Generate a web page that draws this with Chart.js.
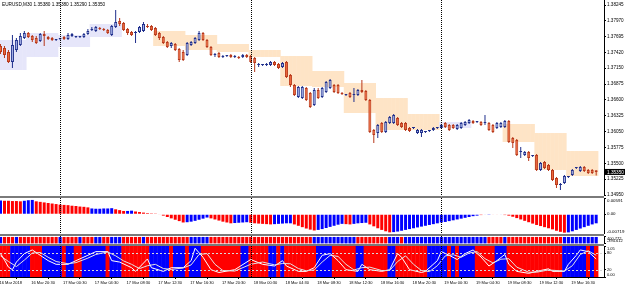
<!DOCTYPE html>
<html>
<head>
<meta charset="utf-8">
<title>EURUSD,M30</title>
<script src="https://cdn.jsdelivr.net/npm/chart.js@4.4.0/dist/chart.umd.min.js"></script>
<style>
  body { margin: 0; background: #fff; }
  #wrap { position: relative; width: 625px; height: 287px; overflow: hidden; background: #fff; }
  #wrap canvas { position: absolute; left: 0; }
  .sep { position: absolute; left: 0; width: 604px; height: 2px; background: #7a7a7a; }
</style>
</head>
<body>
<div id="wrap">
  <canvas id="main" width="625" height="196" style="top:0"></canvas>
  <div class="sep" style="top:196px"></div>
  <canvas id="hist" width="625" height="36" style="top:198px"></canvas>
  <div class="sep" style="top:234px"></div>
  <canvas id="strip" width="625" height="8" style="top:236px"></canvas>
  <div class="sep" style="top:244px"></div>
  <canvas id="osc" width="625" height="41" style="top:246px"></canvas>
</div>
<script>
const symbol = 'EURUSD,M30';

// M30 candles, one per bar, oldest first
const open = [
  1.37534,1.37500,1.37430,1.37257,1.37465,1.37552,1.37673,1.37760,1.37708,1.37673,
  1.37621,1.37742,1.37690,1.37673,1.37638,1.37656,1.37690,1.37656,1.37708,1.37690,
  1.37690,1.37690,1.37742,1.37812,1.37795,1.37847,1.37829,1.37812,1.37725,1.37864,
  1.37968,1.37933,1.37829,1.37777,1.37760,1.37777,1.37795,1.37881,1.37881,1.37847,
  1.37760,1.37690,1.37604,1.37534,1.37569,1.37482,1.37430,1.37378,1.37552,1.37586,
  1.37638,1.37760,1.37638,1.37517,1.37378,1.37413,1.37344,1.37361,1.37378,1.37344,
  1.37344,1.37344,1.37378,1.37361,1.37326,1.37205,1.37205,1.37205,1.37205,1.37257,
  1.37222,1.37170,1.37257,1.37031,1.36858,1.36650,1.36632,1.36806,1.36719,1.36511,
  1.36771,1.36650,1.36737,1.36806,1.36858,1.36858,1.36719,1.36685,1.36719,1.36685,
  1.36685,1.36771,1.36754,1.36598,1.36078,1.36025,1.36199,1.36043,1.36199,1.36199,
  1.36286,1.36199,1.36199,1.36112,1.36112,1.36025,1.36025,1.36043,1.36060,1.36078,
  1.36112,1.36112,1.36199,1.36164,1.36164,1.36095,1.36112,1.36164,1.36199,1.36234,
  1.36216,1.36216,1.36199,1.36199,1.36164,1.36112,1.36130,1.36130,1.36234,1.35939,
  1.35904,1.35696,1.35644,1.35696,1.35627,1.35644,1.35384,1.35523,1.35471,1.35384,
  1.35245,1.35124,1.35159,1.35263,1.35297,1.35418,1.35366,1.35436,1.35384,1.35384,
  1.35380
];
const high = [
  1.37569,1.37534,1.37465,1.37725,1.37673,1.37760,1.37795,1.37777,1.37725,1.37708,
  1.37760,1.37795,1.37708,1.37690,1.37656,1.37673,1.37708,1.37760,1.37760,1.37708,
  1.37708,1.37760,1.37829,1.37864,1.37881,1.37864,1.37847,1.37829,1.37899,1.38159,
  1.38020,1.37951,1.37847,1.37795,1.37795,1.37881,1.37951,1.37916,1.37899,1.37864,
  1.37777,1.37708,1.37621,1.37604,1.37586,1.37500,1.37465,1.37604,1.37621,1.37690,
  1.37795,1.37777,1.37656,1.37534,1.37413,1.37430,1.37378,1.37378,1.37396,1.37378,
  1.37361,1.37396,1.37396,1.37378,1.37344,1.37240,1.37222,1.37240,1.37274,1.37274,
  1.37240,1.37257,1.37274,1.37049,1.36875,1.36841,1.36841,1.36823,1.36737,1.36806,
  1.36806,1.36823,1.36927,1.36962,1.36875,1.36875,1.36737,1.36702,1.36737,1.36806,
  1.36789,1.36945,1.36771,1.36615,1.36095,1.36182,1.36216,1.36234,1.36320,1.36355,
  1.36303,1.36216,1.36216,1.36130,1.36130,1.36095,1.36095,1.36060,1.36078,1.36130,
  1.36130,1.36182,1.36216,1.36182,1.36182,1.36182,1.36216,1.36234,1.36268,1.36251,
  1.36234,1.36234,1.36338,1.36216,1.36182,1.36216,1.36216,1.36251,1.36251,1.35956,
  1.35921,1.35783,1.35713,1.35713,1.35644,1.35661,1.35523,1.35540,1.35488,1.35401,
  1.35263,1.35159,1.35297,1.35280,1.35401,1.35436,1.35453,1.35453,1.35401,1.35401,
  1.35380
];
const low = [
  1.37396,1.37326,1.37240,1.37153,1.37430,1.37534,1.37656,1.37673,1.37604,1.37569,
  1.37604,1.37534,1.37638,1.37621,1.37621,1.37638,1.37638,1.37638,1.37690,1.37673,
  1.37673,1.37673,1.37725,1.37795,1.37777,1.37812,1.37795,1.37742,1.37708,1.37847,
  1.37881,1.37795,1.37725,1.37708,1.37586,1.37760,1.37777,1.37847,1.37795,1.37708,
  1.37638,1.37569,1.37500,1.37500,1.37448,1.37257,1.37274,1.37361,1.37534,1.37569,
  1.37621,1.37621,1.37500,1.37361,1.37344,1.37326,1.37326,1.37344,1.37326,1.37326,
  1.37309,1.37326,1.37326,1.37240,1.37083,1.37170,1.37188,1.37188,1.37188,1.37188,
  1.37135,1.37153,1.36979,1.36823,1.36667,1.36632,1.36615,1.36580,1.36459,1.36494,
  1.36615,1.36632,1.36719,1.36789,1.36719,1.36702,1.36685,1.36667,1.36632,1.36563,
  1.36667,1.36719,1.36580,1.36025,1.35852,1.35939,1.36025,1.36025,1.36182,1.36182,
  1.36147,1.36112,1.36060,1.36043,1.36095,1.36008,1.35956,1.36025,1.36043,1.36060,
  1.36095,1.36095,1.36112,1.36060,1.36095,1.36078,1.36095,1.36147,1.36182,1.36182,
  1.36199,1.36147,1.36164,1.36060,1.36025,1.36095,1.36112,1.36112,1.35852,1.35765,
  1.35627,1.35592,1.35627,1.35540,1.35609,1.35366,1.35366,1.35401,1.35366,1.35193,
  1.35072,1.35037,1.35141,1.35245,1.35280,1.35401,1.35350,1.35350,1.35315,1.35315,
  1.35290
];
const close = [
  1.37430,1.37378,1.37257,1.37552,1.37638,1.37708,1.37760,1.37690,1.37638,1.37586,
  1.37742,1.37708,1.37656,1.37638,1.37638,1.37656,1.37656,1.37725,1.37742,1.37690,
  1.37690,1.37742,1.37795,1.37829,1.37864,1.37829,1.37812,1.37760,1.37881,1.37951,
  1.37916,1.37812,1.37760,1.37725,1.37777,1.37864,1.37916,1.37864,1.37812,1.37725,
  1.37673,1.37586,1.37517,1.37586,1.37465,1.37292,1.37292,1.37586,1.37604,1.37673,
  1.37760,1.37638,1.37517,1.37378,1.37378,1.37344,1.37361,1.37361,1.37344,1.37344,
  1.37326,1.37378,1.37344,1.37257,1.37240,1.37205,1.37205,1.37205,1.37257,1.37205,
  1.37153,1.37240,1.36997,1.36858,1.36685,1.36823,1.36823,1.36598,1.36476,1.36771,
  1.36632,1.36806,1.36910,1.36945,1.36737,1.36719,1.36702,1.36685,1.36650,1.36685,
  1.36771,1.36737,1.36598,1.36043,1.35991,1.36164,1.36043,1.36216,1.36303,1.36338,
  1.36164,1.36130,1.36078,1.36060,1.36112,1.36078,1.36078,1.36043,1.36060,1.36112,
  1.36112,1.36164,1.36130,1.36078,1.36112,1.36164,1.36199,1.36216,1.36251,1.36199,
  1.36216,1.36164,1.36199,1.36078,1.36043,1.36199,1.36199,1.36234,1.35869,1.35852,
  1.35644,1.35696,1.35696,1.35592,1.35627,1.35384,1.35505,1.35418,1.35384,1.35211,
  1.35124,1.35124,1.35280,1.35263,1.35384,1.35418,1.35436,1.35366,1.35332,1.35332,
  1.35350
];

// shaded 4-hour range boxes (bar index from / to)
const boxStart = [0, 7, 15, 23, 39, 47, 55, 63, 71, 79, 87, 95, 103, 111, 127, 135, 143];
const boxEnd   = [6, 14, 22, 30, 46, 54, 62, 70, 78, 86, 94, 102, 110, 118, 134, 142, 150];
const boxHigh  = [1.37638, 1.37760, 1.37725, 1.37916, 1.37795, 1.37725, 1.37569, 1.37465, 1.37361,
                  1.37101, 1.36893, 1.36632, 1.36355, 1.36216, 1.36182, 1.36025, 1.35713];
const boxLow   = [1.37118, 1.37344, 1.37517, 1.37690, 1.37534, 1.37465, 1.37430, 1.37344, 1.36841,
                  1.36823, 1.36372, 1.36078, 1.36078, 1.36112, 1.35869, 1.35384, 1.35280];
const boxKind  = ['lav', 'lav', 'lav', 'lav', 'peach', 'peach', 'peach', 'peach', 'peach',
                  'peach', 'peach', 'peach', 'peach', 'lav', 'peach', 'peach', 'peach'];

const priceTicks = [1.38245, 1.37970, 1.37695, 1.37420, 1.37150, 1.36875, 1.36600,
                    1.36325, 1.36050, 1.35775, 1.35500, 1.35225, 1.34950];
const daySeparators = [15, 63, 111];
const tickBars = [0, 8, 16, 24, 32, 40, 48, 56, 64, 72, 80, 88, 96, 104, 112, 120, 128, 136, 144];
const tickLabels = ['16 Mar 2018', '16 Mar 20:30', '17 Mar 00:30', '17 Mar 04:30', '17 Mar 08:30',
  '17 Mar 12:30', '17 Mar 16:30', '17 Mar 20:30', '18 Mar 00:30', '18 Mar 04:30', '18 Mar 08:30',
  '18 Mar 12:30', '18 Mar 16:30', '18 Mar 20:30', '19 Mar 00:30', '19 Mar 04:30', '19 Mar 08:30',
  '19 Mar 12:30', '19 Mar 16:30'];

// histogram sub-window
const histValues = [
  0.0050,0.0049,0.0049,0.0048,0.0048,0.0047,0.0049,0.0051,0.0052,0.0047,
  0.0045,0.0043,0.0041,0.0039,0.0037,0.0035,0.0034,0.0033,0.0031,0.0030,
  0.0028,0.0027,0.0025,0.0021,0.0020,0.0020,0.0021,0.0021,0.0022,0.0018,
  0.0015,0.0012,0.0012,0.0013,0.0010,0.0008,0.0006,0.0004,0.0003,0.0001,
  -0.0002,-0.0005,-0.0010,-0.0015,-0.0020,-0.0025,-0.0030,-0.0029,-0.0027,-0.0024,
  -0.0020,-0.0016,-0.0012,-0.0015,-0.0019,-0.0023,-0.0027,-0.0030,-0.0033,-0.0032,
  -0.0031,-0.0030,-0.0029,-0.0031,-0.0033,-0.0034,-0.0035,-0.0036,-0.0037,-0.0036,
  -0.0035,-0.0034,-0.0033,-0.0033,-0.0037,-0.0042,-0.0047,-0.0052,-0.0056,-0.0059,
  -0.0057,-0.0054,-0.0050,-0.0046,-0.0042,-0.0038,-0.0035,-0.0036,-0.0037,-0.0035,
  -0.0033,-0.0032,-0.0031,-0.0037,-0.0044,-0.0051,-0.0057,-0.0062,-0.0066,-0.0065,
  -0.0063,-0.0060,-0.0057,-0.0054,-0.0051,-0.0048,-0.0045,-0.0042,-0.0039,-0.0036,
  -0.0033,-0.0030,-0.0028,-0.0025,-0.0022,-0.0019,-0.0016,-0.0013,-0.0010,-0.0007,
  -0.0005,-0.0003,-0.0002,-0.0001,-0.0002,-0.0002,-0.0002,-0.0003,-0.0005,-0.0009,
  -0.0014,-0.0019,-0.0024,-0.0029,-0.0034,-0.0039,-0.0043,-0.0047,-0.0051,-0.0055,
  -0.0060,-0.0064,-0.0067,-0.0066,-0.0062,-0.0057,-0.0052,-0.0047,-0.0042,-0.0037,
  -0.0033
];
const histRuns = [[1,'B'],[5,'R'],[3,'B'],[14,'R'],[6,'B'],[3,'R'],[2,'B'],[13,'R'],[6,'B'],[6,'R'],
  [4,'B'],[6,'R'],[5,'B'],[6,'R'],[7,'B'],[2,'R'],[4,'B'],[6,'R'],[22,'B'],[1,'R'],[2,'B'],[2,'R'],
  [1,'B'],[1,'R'],[15,'R'],[8,'B']];
const histTicks = [0.00591, 0, -0.00719];
const histTickText = ['0.00591', '0.00', '-0.00719'];

// thin signal strip
const stripRange = [-394.612, 400.772];
const stripRuns = [[1,'B'],[3,'R'],[1,'B'],[10,'R'],[1,'B'],[4,'R'],[1,'B'],[3,'R'],[2,'B'],[2,'R'],
  [3,'B'],[5,'R'],[1,'B'],[11,'R'],[5,'B'],[26,'R'],[11,'B'],[8,'R'],[3,'B'],[1,'R'],[21,'B'],
  [4,'R'],[1,'B'],[14,'R'],[9,'B']];
const stripTickText = ['400.772', '-394.612'];

// oscillator sub-window
const oscRange = [-5, 105];
const oscLevels = [80, 20];
const oscRuns = [[3,'R'],[5,'B'],[3,'R'],[5,'B'],[1,'R'],[2,'B'],[2,'R'],[6,'B'],[1,'R'],[3,'B'],
  [7,'R'],[5,'B'],[1,'R'],[3,'B'],[1,'R'],[3,'B'],[10,'R'],[2,'B'],[5,'R'],[2,'B'],[1,'R'],[1,'B'],
  [8,'R'],[4,'B'],[6,'R'],[2,'B'],[6,'R'],[2,'B'],[8,'R'],[5,'B'],[1,'R'],[1,'B'],[1,'R'],[4,'B'],
  [5,'R'],[3,'B'],[14,'R'],[6,'B'],[1,'R'],[1,'B'],[1,'R']];
const stochMainBars = [0,1,2,3,4,6,8,10,12,14,17,19,22,24,27,28,30,33,34,37,38,41,43,46,48,49,51,
  53,55,59,63,66,69,71,72,75,77,79,81,83,85,87,90,91,93,96,98,100,101,103,106,107,110,111,113,115,
  117,119,121,123,125,127,128,130,133,135,138,139,142,143,145,146,148,150];
const stochMain = [78,55,30,21,48,78,91,72,53,40,40,53,72,85,85,53,48,28,15,59,28,15,28,28,53,97,65,
  21,11,21,57,40,34,53,34,15,15,28,72,78,53,21,15,40,21,15,21,78,65,21,11,15,53,85,72,57,78,91,66,
  34,53,75,40,15,8,15,24,15,15,40,72,91,85,59];
const stochSigBars = [0,2,4,6,8,10,12,14,17,19,22,24,27,29,31,33,35,37,39,41,43,46,48,50,52,54,56,59,
  63,66,69,71,73,75,77,79,81,83,85,87,89,91,93,96,98,100,102,104,106,108,110,112,114,116,118,120,
  122,124,126,128,130,133,135,138,140,142,144,146,148,150];
const stochSig = [70,50,32,55,80,82,65,50,42,46,62,75,84,70,52,40,25,35,40,25,22,27,38,75,78,40,18,16,
  40,48,38,43,42,25,17,20,48,72,68,40,20,28,30,18,18,50,70,40,18,14,35,70,74,65,80,85,60,45,58,60,
  30,12,12,20,18,16,35,75,88,72];
const oscTicks = [105, 80, 20, -5];
const oscTickText = ['1.05', '80', '20', '0.00'];

const RED = '#ff0000', BLUE = '#0000ff';
const BULL_FILL = '#aab6ea', BULL_LINE = '#1f2f8c';
const BEAR_FILL = '#ee6a3e', BEAR_LINE = '#b8381a';
const LAV = '#e6e6fa', PEACH = '#fee4c6';
const FONT = '"Liberation Sans", Arial, sans-serif';
Chart.defaults.font.family = FONT;
Chart.defaults.color = '#000';

const N = open.length;
const X_MIN = -0.13, X_MAX = 151.97;

function expandRuns(list) {
  const out = [];
  list.forEach(([n, c]) => { for (let k = 0; k < n; k++) out.push(c); });
  return out;
}
const colorOf = c => (c === 'B' ? BLUE : RED);
const isBull = i => close[i] >= open[i];

function xAxis(show) {
  return {
    type: 'linear', min: X_MIN, max: X_MAX, offset: false, display: show,
    afterBuildTicks: s => { s.ticks = tickBars.map(v => ({ value: v })); },
    afterFit: s => { s.paddingLeft = 0; s.paddingRight = 0; if (show) s.height = 10; },
    grid: { display: show, drawOnChartArea: false, drawTicks: true, tickLength: 2, color: '#000' },
    border: { display: show, color: '#000' },
    ticks: {
      autoSkip: false, maxRotation: 0, minRotation: 0, align: 'start', labelOffset: -1, padding: 1,
      font: { size: 4 }, callback: (v, i) => tickLabels[i]
    }
  };
}

function yAxis(min, max, vals, text, size, inset) {
  return {
    position: 'right', min, max,
    afterBuildTicks: s => { s.ticks = vals.map(v => ({ value: v })); },
    afterFit: s => { s.width = 21; s.paddingTop = 0; s.paddingBottom = 0; },
    grid: { drawOnChartArea: false, drawTicks: true, tickLength: 2, color: '#000' },
    border: { display: true, color: '#000' },
    ticks: {
      autoSkip: false, padding: 1, font: { size },
      callback: (v, i) => {
        if (!inset) return text[i];
        if (i === 0) return ['', text[i]];
        if (i === text.length - 1) return [text[i], ''];
        return text[i];
      }
    }
  };
}

function baseOptions(showX, y) {
  return {
    responsive: false, animation: false, devicePixelRatio: 1, events: [],
    layout: { padding: 0 },
    plugins: { legend: { display: false }, tooltip: { enabled: false } },
    scales: { x: xAxis(showX), y }
  };
}

// dotted day separators through every window
const dayLines = {
  id: 'dayLines',
  afterDatasetsDraw(chart) {
    const { ctx, chartArea, scales } = chart;
    ctx.save();
    ctx.strokeStyle = '#000';
    ctx.lineWidth = 1;
    ctx.setLineDash([1, 1]);
    daySeparators.forEach(b => {
      const x = Math.round(scales.x.getPixelForValue(b)) + 0.5;
      ctx.beginPath();
      ctx.moveTo(x, chartArea.top);
      ctx.lineTo(x, chartArea.bottom);
      ctx.stroke();
    });
    ctx.restore();
  }
};

// symbol line and last price tag
const mainText = {
  id: 'mainText',
  afterDraw(chart) {
    const { ctx, chartArea, scales } = chart;
    const last = N - 1;
    ctx.save();
    ctx.font = '4.7px ' + FONT;
    ctx.textBaseline = 'middle';
    ctx.fillStyle = '#000';
    const ohlc = [open[last], high[last], low[last], close[last]].map(v => v.toFixed(5)).join(' ');
    ctx.fillText(symbol + ' ' + ohlc, 2, 4.5);
    const y = scales.y.getPixelForValue(close[last]);
    ctx.fillRect(chartArea.right + 1, y - 3, 20, 6);
    ctx.fillStyle = '#fff';
    ctx.fillText(close[last].toFixed(5), chartArea.right + 3, y + 0.3);
    ctx.restore();
  }
};

const oscLevelLines = {
  id: 'oscLevelLines',
  afterDatasetsDraw(chart) {
    const { ctx, chartArea, scales } = chart;
    ctx.save();
    ctx.strokeStyle = '#d8d8d8';
    ctx.lineWidth = 1;
    ctx.setLineDash([2, 2]);
    oscLevels.forEach(v => {
      const y = Math.round(scales.y.getPixelForValue(v)) + 0.5;
      ctx.beginPath();
      ctx.moveTo(chartArea.left, y);
      ctx.lineTo(chartArea.right, y);
      ctx.stroke();
    });
    ctx.restore();
  }
};

// main price window
const bodyData = open.map((o, i) => ({ x: i, y: [o, close[i]] }));
const wickData = open.map((o, i) => ({ x: i, y: [low[i], high[i]] }));
const boxData = [], boxColors = [];
boxStart.forEach((s, g) => {
  for (let i = s; i <= boxEnd[g]; i++) {
    boxData.push({ x: i, y: [boxLow[g], boxHigh[g]] });
    boxColors.push(boxKind[g] === 'lav' ? LAV : PEACH);
  }
});

new Chart(document.getElementById('main'), {
  type: 'bar',
  data: {
    datasets: [
      { data: bodyData, order: 1, grouped: false, barThickness: 3, minBarLength: 1,
        borderWidth: 1, borderSkipped: false, inflateAmount: 0,
        backgroundColor: c => (isBull(c.dataIndex) ? BULL_FILL : BEAR_FILL),
        borderColor: c => (isBull(c.dataIndex) ? BULL_LINE : BEAR_LINE) },
      { data: wickData, order: 2, grouped: false, barThickness: 1, borderWidth: 0, inflateAmount: 0,
        backgroundColor: c => (isBull(c.dataIndex) ? BULL_LINE : BEAR_LINE) },
      { data: boxData, order: 3, grouped: false, barPercentage: 1.12, categoryPercentage: 1,
        borderWidth: 0, inflateAmount: 0, backgroundColor: boxColors }
    ]
  },
  options: baseOptions(false, yAxis(1.34933, 1.38332, priceTicks, priceTicks.map(v => v.toFixed(5)), 4.6, false)),
  plugins: [dayLines, mainText]
});

// histogram window
const histColor = expandRuns(histRuns);
new Chart(document.getElementById('hist'), {
  type: 'bar',
  data: {
    datasets: [{
      data: histValues.map((v, i) => ({ x: i, y: v })), grouped: false,
      barPercentage: 0.75, categoryPercentage: 1, borderWidth: 0, inflateAmount: 0,
      backgroundColor: histColor.map(colorOf)
    }]
  },
  options: baseOptions(false, yAxis(-0.00719, 0.00591, histTicks, histTickText, 4.4, true)),
  plugins: [dayLines]
});

// strip window
const stripColor = expandRuns(stripRuns);
new Chart(document.getElementById('strip'), {
  type: 'bar',
  data: {
    datasets: [{
      data: stripColor.map((c, i) => ({ x: i, y: stripRange })), grouped: false,
      barPercentage: 0.8, categoryPercentage: 1, borderWidth: 0, inflateAmount: 0,
      backgroundColor: stripColor.map(colorOf)
    }]
  },
  options: baseOptions(false, yAxis(-470, 520, [stripRange[1], stripRange[0]], stripTickText, 4, true)),
  plugins: [dayLines]
});

// oscillator window
const oscColor = expandRuns(oscRuns);
new Chart(document.getElementById('osc'), {
  type: 'bar',
  data: {
    datasets: [
      { type: 'line', order: 0, data: stochSigBars.map((b, k) => ({ x: b, y: stochSig[k] })),
        borderColor: '#e4e4e4', borderWidth: 1, pointRadius: 0, tension: 0 },
      { type: 'line', order: 0, data: stochMainBars.map((b, k) => ({ x: b, y: stochMain[k] })),
        borderColor: '#ffffff', borderWidth: 1, pointRadius: 0, tension: 0 },
      { data: oscColor.map((c, i) => ({ x: i, y: oscRange })), order: 1, grouped: false,
        barPercentage: 1.12, categoryPercentage: 1, borderWidth: 0, inflateAmount: 0,
        backgroundColor: oscColor.map(colorOf) }
    ]
  },
  options: baseOptions(true, yAxis(oscRange[0], oscRange[1], oscTicks, oscTickText, 4, true)),
  plugins: [oscLevelLines, dayLines]
});
</script>
</body>
</html>
